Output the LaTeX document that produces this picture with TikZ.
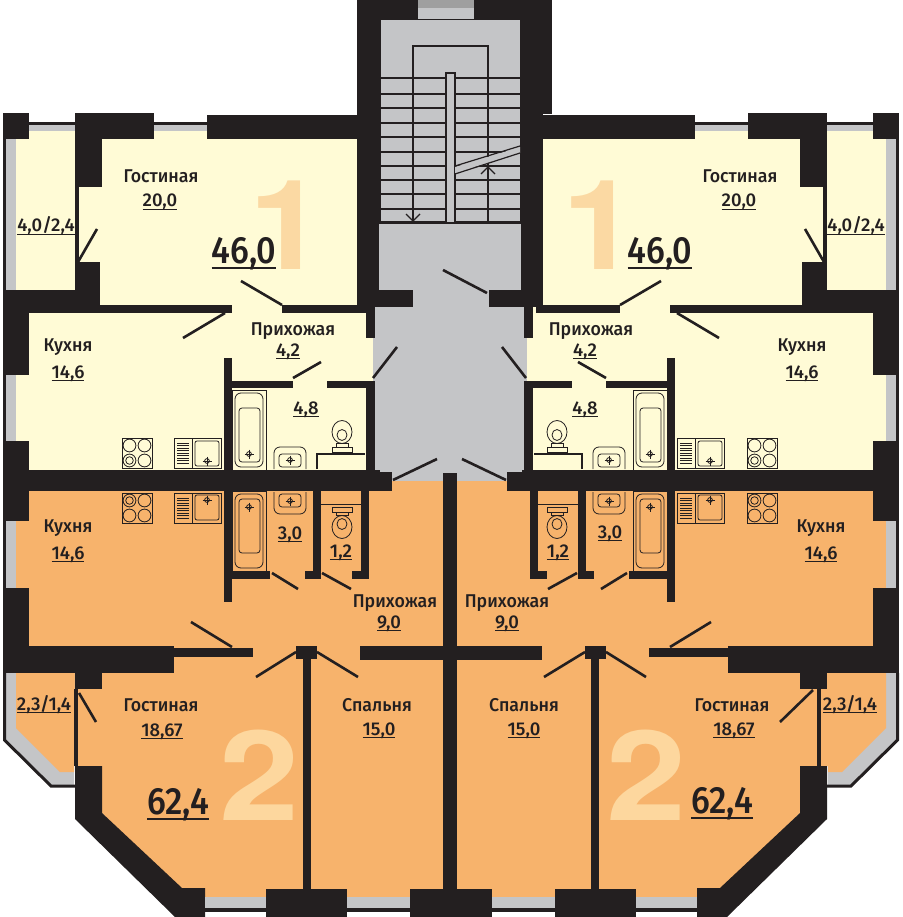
\documentclass[tikz,border=0pt]{standalone}
\usepackage{fontspec}
\setmainfont{Fira Sans}[UprightFont={* Medium}]
\newfontfamily\digitfont{TeX Gyre Heros}
\definecolor{wallblack}{HTML}{231F20}
\definecolor{flatyellow}{HTML}{FFFBD6}
\definecolor{flatorange}{HTML}{F7B36C}
\definecolor{glassgray}{HTML}{C4C5C7}
\definecolor{digityellow}{HTML}{FBD9A3}
\definecolor{digitorange}{HTML}{FDD79E}
\newcommand\arealine[1]{\setbox0\hbox{#1}\rlap{\vrule width\wd0 height -.1em depth .17em}\box0}
\tikzset{
  wall/.style={fill=wallblack},
  glass/.style={fill=glassgray},
  swingdoor/.style={draw=wallblack,line width=2.6pt},
  fixture/.style={draw=wallblack,line width=0.8pt},
  roomname/.style={anchor=base,inner sep=0pt,xscale=.96,font=\fontsize{18.5}{18}\selectfont,text=wallblack},
  areanum/.style={anchor=base,inner sep=0pt,font=\fontsize{18.5}{18}\selectfont,text=wallblack},
  flatarea/.style={anchor=base,inner sep=0pt,xscale=.9,font=\fontsize{38}{38}\selectfont,text=wallblack},
  flatdigit/.style={anchor=base,inner sep=0pt,font=\fontsize{125}{125}\selectfont\digitfont\bfseries},
  drain/.pic={
    \draw[fixture] (0,0) circle[radius=2.4];
    \draw[fixture] (-4.5,0) -- (4.5,0) (0,-4.5) -- (0,4.5);
  },
  stovetop/.pic={
    \draw[fixture] (-15,-15) rectangle (15,15);
    \foreach \bx in {-7.5,7.5} \foreach \by in {-7.5,7.5}
      \draw[fixture] (\bx,\by) circle[radius=6.4];
    \draw[fixture] (-7.5,7.5) circle[radius=3.8];
  },
  sinktop/.pic={
    \draw[fixture] (-24,-15) rectangle (23,15);
    \draw[fixture] (-6,-15) -- (-6,15);
    \foreach \gy in {-10,-7.5,...,10} \draw[fixture] (-21,\gy) -- (-9,\gy);
    \draw[fixture,rounded corners=2pt] (-3,-12) rectangle (21,13);
    \pic at (9,8) {drain};
  },
  bathtub/.pic={
    \draw[fixture] (-17,-40) rectangle (17,40);
    \draw[fixture,rounded corners=6pt] (-14,-37) rectangle (14,37);
    \draw[fixture,rounded corners=3pt] (-10,-22) rectangle (11,32);
    \pic at (0,24) {drain};
  },
  basintop/.pic={
    \draw[fixture,rounded corners=6pt] (-16,11) -- (-16,-11) -- (16,-11) -- (16,11);
    \draw[fixture,rounded corners=3pt] (-11,9) -- (-11,-4) -- (11,-4) -- (11,9) -- cycle;
    \pic at (0,2) {drain};
  },
  toiletpan/.pic={
    \draw[fixture] (0,0) ellipse[x radius=10,y radius=11.5];
    \draw[fixture] (0,3) ellipse[x radius=5,y radius=5.5];
    \draw[fixture] (-6,11.5) rectangle (6,15);
    \draw[fixture] (-10,15) rectangle (10,20);
  },
}
% outer walls and windows of one half
\newcommand\shellhalf{
  \fill[glass] (6,125) rectangle (357,131);
  \fill[glass] (6,131) rectangle (16,470);
  \fill[glass] (6,491) rectangle (16,600);
  \fill[wall] (3,113) rectangle (6,673);
  \fill[wall] (29,122) rectangle (357,125);
  \fill[wall] (3,113) rectangle (29,139);
  \fill[wall] (75,113) rectangle (154,139);
  \fill[wall] (75,139) rectangle (102,187);
  \fill[wall] (75,187) rectangle (79,262);
  \fill[wall] (207,115) rectangle (379,139);
  \fill[wall] (75,262) rectangle (100,313);
  \fill[wall] (3,290) rectangle (100,313);
  \fill[wall] (100,305) rectangle (232,313);
  \fill[wall] (282,305) rectangle (366,313);
  \fill[wall] (3,290) rectangle (29,375);
  \fill[wall] (3,441) rectangle (29,521);
  \fill[wall] (3,470) rectangle (380,491);
  \fill[wall] (3,588) rectangle (29,646);
  \fill[wall] (3,646) rectangle (174,673);
  \fill[wall] (174,648) rectangle (253,657);
  \fill[wall] (75,673) rectangle (102,689);
  \fill[wall] (296,646) rectangle (317,659);
  \fill[wall] (303,659) rectangle (311,889);
  \fill[wall] (360,646) rectangle (451,660);
  % lower balcony
  \fill[glass] (6,673) -- (74,673) -- (74,785) -- (52,785) -- (6,740) -- cycle;
  \fill[flatorange] (16,673) -- (74,673) -- (74,772) -- (60,772) -- (16,728) -- cycle;
  \draw[wallblack,line width=3pt] (4.5,673) -- (4.5,740) -- (51,786) -- (75,786);
  \fill[wall] (75,766) -- (102,766) -- (102,813) -- (182,888) -- (205,888) -- (205,917) -- (175,917) -- (75,819) -- cycle;
  % bottom windows
  \fill[glass] (205,897) rectangle (266,908);
  \fill[glass] (347,897) rectangle (410,908);
  \fill[wall] (205,908) rectangle (266,912);
  \fill[wall] (347,908) rectangle (410,912);
  \fill[wall] (266,889) rectangle (347,917);
  \fill[wall] (410,889) rectangle (451,917);
  % doors
  \draw[swingdoor] (78,262) -- (97,229);
  \draw[swingdoor] (225,313) -- (183,338);
  \draw[swingdoor] (282,305) -- (241,281);
  \draw[swingdoor] (191,622) -- (232,647);
  \draw[swingdoor] (296,652) -- (256,677);
  \draw[swingdoor] (317,652) -- (358,677);
}
% kitchen and bath of the upper flat
\newcommand\upperwet{
  \fill[wall] (224,358) rectangle (232,470);
  \fill[wall] (232,381) rectangle (293,388);
  \fill[wall] (327,381) rectangle (375,388);
  \fill[wall] (366,381) rectangle (375,470);
  \fill[wall] (366,305) rectangle (375,338);
  \fill[wall] (375,472) rectangle (392,491);
  \draw[swingdoor] (293,378) -- (321,362);
  \draw[swingdoor] (373,378) -- (397,347);
  \draw[swingdoor] (393,480) -- (437,459);
  \draw[wallblack,line width=1.5pt] (317,469) -- (317,454) -- (365,454);
  \pic at (137,453) {stovetop};
  \pic at (198,453) {sinktop};
  \pic at (249,430) {bathtub};
  \pic at (290,458) {basintop};
  \pic at (342,432) {toiletpan};
}
% kitchen and bath of the lower flat
\newcommand\lowerwet{
  \fill[wall] (224,491) rectangle (232,602);
  \fill[wall] (232,571) rectangle (270,579);
  \fill[wall] (313,491) rectangle (321,579);
  \fill[wall] (305,571) rectangle (313,579);
  \fill[wall] (361,491) rectangle (369,579);
  \fill[wall] (352,571) rectangle (361,579);
  \draw[swingdoor] (272,573) -- (298,589);
  \draw[swingdoor] (322,573) -- (351,589);
  \draw[wallblack,line width=1pt] (321,504) -- (361,504);
  \pic[yscale=-1] at (137,508) {stovetop};
  \pic[yscale=-1] at (198,508) {sinktop};
  \pic[yscale=-1] at (249,531) {bathtub};
  \pic[yscale=-1] at (290,503) {basintop};
  \pic[yscale=-1] at (342,527) {toiletpan};
}
\begin{document}
\begin{tikzpicture}[x=1pt,y=-1pt]
  \useasboundingbox (0,0) rectangle (902,917);
  % flats
  \fill[flatyellow] (16,131) -- (886,131) -- (886,470) -- (16,470) -- cycle;
  \fill[white] (357,0) rectangle (545,125);
  \fill[flatorange] (16,481) -- (886,481) -- (886,673) -- (828,673) -- (828,766) -- (800,766) -- (800,813) -- (720,897) -- (182,897) -- (102,813) -- (102,766) -- (74,766) -- (74,673) -- (16,673) -- cycle;
  % stair well and corridor
  \fill[wall] (357,0) rectangle (552,114);
  \fill[wall] (357,114) rectangle (543,305);
  \fill[glass] (373,305) rectangle (527,481);
  \fill[glass] (413,290) rectangle (489,305);
  \fill[glass] (379,224) rectangle (521,290);
  \fill[glass] (381,20) rectangle (520,222);
  \fill[glass] (418,8) rectangle (474,19);
  \fill[gray!75] (418,0) rectangle (474,8);
  \foreach \sy in {78,94,108,123,137,152,166,180,194,209,222}
    \draw[wallblack,line width=1.2pt] (381,\sy) -- (520,\sy);
  \draw[wallblack,line width=1.6pt] (413,222) -- (413,46) -- (488,46) -- (488,222);
  \draw[wallblack,line width=1.4pt,fill=glassgray] (446,222) -- (446,73) -- (455,73) -- (455,222);
  \fill[glass] (455,167) -- (520,147) -- (520,153) -- (455,173) -- cycle;
  \draw[wallblack,line width=1.2pt] (455,166) -- (520,146) (455,174) -- (520,153);
  \draw[wallblack,line width=1.2pt] (481,174) -- (488,167) -- (495,174);
  \draw[wallblack,line width=1.2pt] (406,214) -- (413,221) -- (420,214);
  \fill[wall] (357,290) rectangle (413,307);
  \fill[wall] (489,290) rectangle (543,307);
  \draw[swingdoor] (443,270) -- (487,293);
  % left half
  \shellhalf
  \upperwet
  \lowerwet
  \draw[swingdoor] (79,693) -- (96,722);
  \fill[wall] (74,689) rectangle (78,766);
  % right half
  \begin{scope}[shift={(902,0)},xscale=-1]
    \shellhalf
  \end{scope}
  \begin{scope}[shift={(899,0)},xscale=-1]
    \upperwet
    \lowerwet
  \end{scope}
  \draw[swingdoor] (813,690) -- (780,722);
  \fill[wall] (817,689) rectangle (821,766);
  \fill[wall] (443,473) rectangle (457,889);
  % big flat numbers
  \node[flatdigit,text=digityellow,xscale=1.08] (bigoneL) at (287,269) {1};
  \node[flatdigit,text=digityellow,xscale=1.08] (bigoneR) at (600,269) {1};
  \node[flatdigit,text=digitorange,xscale=1.15] (bigtwoL) at (259,820) {2};
  \node[flatdigit,text=digitorange,xscale=1.15] (bigtwoR) at (646,820) {2};
  % upper left flat
  \node[roomname] (livingUL) at (161,183) {Гостиная};
  \node[areanum] (livingUL-a) at (160,207) {\arealine{20,0}};
  \node[areanum] (loggiaUL) at (46,232) {\arealine{4,0/2,4}};
  \node[flatarea] (flatUL) at (244,263) {\arealine{46,0}};
  \node[roomname] (hallUL) at (293,335) {Прихожая};
  \node[areanum] (hallUL-a) at (288,356) {\arealine{4,2}};
  \node[roomname] (kitchenUL) at (68,351) {Кухня};
  \node[areanum] (kitchenUL-a) at (68,378) {\arealine{14,6}};
  \node[areanum] (bathUL) at (306,414) {\arealine{4,8}};
  % upper right flat
  \node[roomname] (livingUR) at (740,183) {Гостиная};
  \node[areanum] (livingUR-a) at (739,207) {\arealine{20,0}};
  \node[areanum] (loggiaUR) at (856,232) {\arealine{4,0/2,4}};
  \node[flatarea] (flatUR) at (660,263) {\arealine{46,0}};
  \node[roomname] (hallUR) at (591,335) {Прихожая};
  \node[areanum] (hallUR-a) at (585,356) {\arealine{4,2}};
  \node[roomname] (kitchenUR) at (802,351) {Кухня};
  \node[areanum] (kitchenUR-a) at (802,378) {\arealine{14,6}};
  \node[areanum] (bathUR) at (585,414) {\arealine{4,8}};
  % lower left flat
  \node[roomname] (kitchenLL) at (68,532) {Кухня};
  \node[areanum] (kitchenLL-a) at (68,559) {\arealine{14,6}};
  \node[areanum] (bathLL) at (290,539) {\arealine{3,0}};
  \node[areanum] (wcLL) at (341,557) {\arealine{1,2}};
  \node[roomname] (hallLL) at (395,607) {Прихожая};
  \node[areanum] (hallLL-a) at (389,628) {\arealine{9,0}};
  \node[roomname] (livingLL) at (161,711) {Гостиная};
  \node[areanum] (livingLL-a) at (162,736) {\arealine{18,67}};
  \node[areanum] (loggiaLL) at (44,710) {\arealine{2,3/1,4}};
  \node[flatarea] (flatLL) at (178,814) {\arealine{62,4}};
  \node[roomname] (bedLL) at (377,711) {Спальня};
  \node[areanum] (bedLL-a) at (379,735) {\arealine{15,0}};
  % lower right flat
  \node[roomname] (kitchenLR) at (821,532) {Кухня};
  \node[areanum] (kitchenLR-a) at (821,559) {\arealine{14,6}};
  \node[areanum] (bathLR) at (610,538) {\arealine{3,0}};
  \node[areanum] (wcLR) at (558,557) {\arealine{1,2}};
  \node[roomname] (hallLR) at (507,607) {Прихожая};
  \node[areanum] (hallLR-a) at (507,628) {\arealine{9,0}};
  \node[roomname] (bedLR) at (524,711) {Спальня};
  \node[areanum] (bedLR-a) at (524,735) {\arealine{15,0}};
  \node[roomname] (livingLR) at (732,711) {Гостиная};
  \node[areanum] (livingLR-a) at (734,735) {\arealine{18,67}};
  \node[areanum] (loggiaLR) at (850,710) {\arealine{2,3/1,4}};
  \node[flatarea] (flatLR) at (722,813) {\arealine{62,4}};
\end{tikzpicture}
\end{document}
